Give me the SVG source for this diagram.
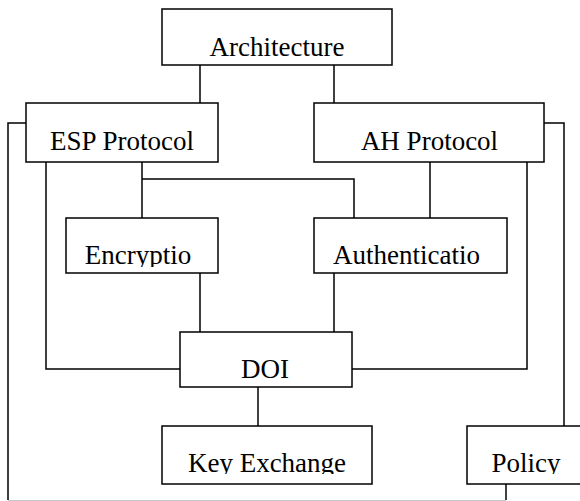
<svg xmlns="http://www.w3.org/2000/svg" width="580" height="501" viewBox="0 0 580 501">
<style>
.box{fill:#fff;stroke:#000;stroke-width:1.5}
.lbl{font-family:"Liberation Serif","Times New Roman",serif;font-size:27px;fill:#000;text-anchor:middle}
.con{fill:none;stroke:#000;stroke-width:1.5}
</style>
<defs>
<clipPath id="cEnc"><rect x="66" y="218" width="152" height="49"/></clipPath>
<clipPath id="cAut"><rect x="314" y="218" width="193" height="49"/></clipPath>
<clipPath id="cKey"><rect x="162" y="426" width="210" height="48"/></clipPath>
<clipPath id="cPol"><rect x="467" y="426" width="113" height="48"/></clipPath>
</defs>
<rect width="580" height="501" fill="#fff"/>
<g id="connectors">
<path class="con" d="M200,65V103M334,65V103"/>
<path class="con" d="M26,123H8V500"/>
<path class="con" d="M544,123H564V426"/>
<path class="con" d="M46,162V369H180"/>
<path class="con" d="M142,162V218M142,179H354V218"/>
<path class="con" d="M430,162V218"/>
<path class="con" d="M527,162V369H352"/>
<path class="con" d="M200,273V332M334,273V332"/>
<path class="con" d="M258,387V426"/>
<path class="con" d="M506,484V500"/>
<path d="M8,500.5H506" fill="none" stroke="#c8c8c8" stroke-width="1"/>
</g>
<g id="architecture"><rect class="box" x="162" y="9" width="230" height="56"/><text class="lbl" x="277" y="56">Architecture</text></g>
<g id="esp"><rect class="box" x="26" y="103" width="192" height="59"/><text class="lbl" x="122" y="150">ESP Protocol</text></g>
<g id="ah"><rect class="box" x="314" y="103" width="230" height="59"/><text class="lbl" x="429.5" y="150">AH Protocol</text></g>
<g id="encryption"><rect class="box" x="66" y="218" width="152" height="55"/><text class="lbl" x="138" y="264" clip-path="url(#cEnc)">Encryptio</text></g>
<g id="authentication"><rect class="box" x="314" y="218" width="193" height="55"/><text class="lbl" x="406.5" y="264" clip-path="url(#cAut)">Authenticatio</text></g>
<g id="doi"><rect class="box" x="180" y="332" width="172" height="55"/><text class="lbl" x="265" y="378">DOI</text></g>
<g id="keyexchange"><rect class="box" x="162" y="426" width="210" height="58"/><text class="lbl" x="267" y="472" clip-path="url(#cKey)">Key Exchange</text></g>
<g id="policy"><rect class="box" x="467" y="426" width="130" height="58"/><text class="lbl" x="526" y="472" clip-path="url(#cPol)">Policy</text></g>
</svg>
